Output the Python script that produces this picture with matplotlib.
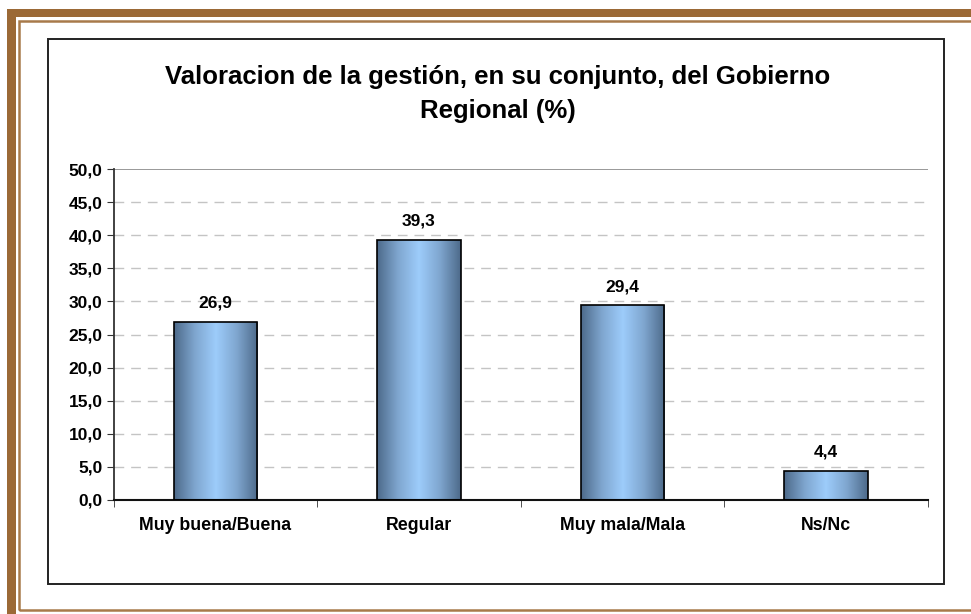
import numpy as np
import matplotlib
matplotlib.use("Agg")
from matplotlib import pyplot as plt
from matplotlib.colors import LinearSegmentedColormap
from matplotlib.patches import Rectangle

# Datos
categorias = ["Muy buena/Buena", "Regular", "Muy mala/Mala", "Ns/Nc"]
valores = [26.9, 39.3, 29.4, 4.4]
titulo = "Valoracion de la gestión, en su conjunto, del Gobierno\nRegional (%)"
y_ticks = [0, 5, 10, 15, 20, 25, 30, 35, 40, 45, 50]

BROWN = "#9b6936"
W, H = 971, 614

plt.rcParams["font.family"] = ["Liberation Sans", "DejaVu Sans"]
plt.rcParams["font.weight"] = "bold"

fig = plt.figure(figsize=(W / 100, H / 100), dpi=100)


def px_rect(x0, y0, x1, y1, **kw):
    # rectangle in pixel coords (origin top-left)
    r = Rectangle((x0 / W, 1 - y1 / H), (x1 - x0) / W, (y1 - y0) / H,
                  transform=fig.transFigure, zorder=-5, **kw)
    fig.add_artist(r)
    return r


# marco marron
px_rect(7, 9, 15.5, H + 5, facecolor=BROWN, edgecolor="none")
px_rect(7, 9, W + 5, 16.5, facecolor=BROWN, edgecolor="none")
px_rect(19, 20.5, W + 10, 609.5, facecolor="none", edgecolor="#a87a4a", linewidth=1.8)

# borde del grafico
px_rect(48, 39, 944, 584, facecolor="white", edgecolor="#222222", linewidth=1.4)

ax = fig.add_axes([113.5 / W, 1 - 500 / H, (928 - 113.5) / W, (500 - 169) / H])
ax.set_facecolor("none")
ax.set_zorder(2)

x = np.arange(len(categorias))
bars = ax.bar(x, valores, width=0.41, color="none", edgecolor="black",
              linewidth=1.2, zorder=3)

cmap = LinearSegmentedColormap.from_list(
    "grad", ["#4d6a8a", "#7fa6cf", "#9dccfb", "#7fa6cf", "#4d6a8a"])
grad = np.linspace(0, 1, 256).reshape(1, -1)
for b in bars:
    im = ax.imshow(grad, cmap=cmap, aspect="auto", zorder=2,
                   extent=(b.get_x(), b.get_x() + b.get_width(), 0, b.get_height()))
    im.set_clip_path(b)

for xi, v in zip(x, valores):
    ax.annotate(f"{v:.1f}".replace(".", ","), (xi, v), xytext=(0, 8),
                textcoords="offset points", ha="center", va="bottom",
                fontsize=12.5, fontweight="bold")

ax.set_xlim(-0.5, len(categorias) - 0.5)
ax.set_ylim(0, 50)
ax.set_yticks(y_ticks)
ax.set_yticklabels([f"{t:.1f}".replace(".", ",") for t in y_ticks],
                   fontsize=12.5, fontweight="bold")
ax.set_xticks(x)
ax.set_xticklabels(categorias, fontsize=12.8, fontweight="bold")
ax.set_xticks(np.arange(-0.5, len(categorias)), minor=True)
ax.tick_params(axis="x", which="major", length=0, pad=12)
ax.tick_params(axis="x", which="minor", length=5, direction="out", color="#333333")
ax.tick_params(axis="y", length=5, direction="out", color="#333333", pad=3)

for t in y_ticks[1:-1]:
    ax.axhline(t, color="#c4c4c4", linewidth=1, linestyle=(0, (7, 5)), zorder=1)
ax.axhline(50, color="#888888", linewidth=1.2, zorder=1)

for s in ["top", "right"]:
    ax.spines[s].set_visible(False)
ax.spines["left"].set_color("#333333")
ax.spines["bottom"].set_color("#111111")
ax.spines["left"].set_linewidth(1.3)
ax.spines["bottom"].set_linewidth(1.5)

fig.text(498 / W, 1 - 94 / H, titulo, ha="center", va="center",
         fontsize=18.5, fontweight="bold", linespacing=1.55)

fig.savefig("out.png", dpi=100)
